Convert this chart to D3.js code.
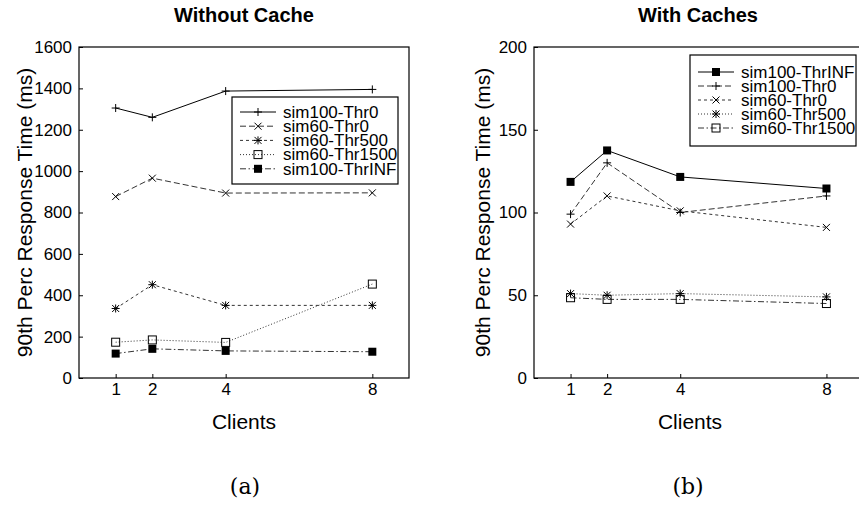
<!DOCTYPE html>
<html>
<head>
<meta charset="utf-8">
<script src="https://cdn.jsdelivr.net/npm/d3@7"></script>
<style>
  html, body { margin: 0; padding: 0; background: #fff; }
  svg { display: block; font-family: "Liberation Sans", Arial, Helvetica, sans-serif; }
</style>
</head>
<body>
<svg id="chart" width="859" height="524"></svg>
<script>
// Clients on the x axis
const clients = [1, 2, 4, 8];

// Tick values
const xTicks = [1, 2, 4, 8];
const yTicksNoCache = [0, 200, 400, 600, 800, 1000, 1200, 1400, 1600];
const yTicksCache = [0, 50, 100, 150, 200];

// Panel (a): without cache, 90th percentile response time (ms)
const nc_sim100Thr0   = [1305, 1260, 1387, 1395];
const nc_sim60Thr0    = [877, 966, 894, 895];
const nc_sim60Thr500  = [336, 451, 351, 351];
const nc_sim60Thr1500 = [173, 184, 172, 454];
const nc_sim100ThrINF = [118, 141, 131, 127];

// Panel (b): with caches
const c_sim100ThrINF = [118.5, 137.5, 121.5, 114.5];
const c_sim100Thr0   = [99, 130, 100, 110];
const c_sim60Thr0    = [93, 110, 101, 91];
const c_sim60Thr500  = [51, 50, 51, 49];
const c_sim60Thr1500 = [48.5, 47.5, 47.5, 45];

const svg = d3.select("#chart");

// gnuplot-like line types
const dashes = {
  solid: null,
  dashed: "6,3",
  short: "3,3",
  dotted: "1,2",
  dashdot: "6,2.5,1.5,2.5"
};

// point symbol drawing
function drawSymbol(g, type, x, y) {
  const s = 4;
  if (type === "plus") {
    g.append("path").attr("d", `M${x - s},${y}H${x + s}M${x},${y - s}V${y + s}`)
      .attr("stroke", "#000").attr("stroke-width", 1).attr("fill", "none");
  } else if (type === "cross") {
    const c = 3.5;
    g.append("path").attr("d", `M${x - c},${y - c}L${x + c},${y + c}M${x - c},${y + c}L${x + c},${y - c}`)
      .attr("stroke", "#000").attr("stroke-width", 1).attr("fill", "none");
  } else if (type === "star") {
    const c = 3.5;
    g.append("path").attr("d",
      `M${x - s},${y}H${x + s}M${x},${y - s}V${y + s}M${x - c},${y - c}L${x + c},${y + c}M${x - c},${y + c}L${x + c},${y - c}`)
      .attr("stroke", "#000").attr("stroke-width", 1).attr("fill", "none");
  } else if (type === "boxOpen") {
    g.append("rect").attr("x", x - s).attr("y", y - s).attr("width", 2 * s).attr("height", 2 * s)
      .attr("stroke", "#000").attr("stroke-width", 1).attr("fill", "none");
  } else if (type === "boxFilled") {
    g.append("rect").attr("x", x - s).attr("y", y - s).attr("width", 2 * s).attr("height", 2 * s)
      .attr("fill", "#000");
  }
}

function drawPanel(p) {
  const x = d3.scaleLinear().domain([0, 9]).range([p.left, p.right]);
  const y = d3.scaleLinear().domain(p.yDomain).range([p.bottom, p.top]);
  const g = svg.append("g");

  // y axis with inward ticks
  const ya = g.append("g").attr("transform", `translate(${p.left},0)`)
    .call(d3.axisLeft(y).tickValues(p.yTicks).tickSize(-4).tickPadding(7).tickFormat(d3.format("d")));
  ya.select(".domain").remove();
  ya.selectAll("text").attr("font-size", 17).attr("fill", "#000")
    .attr("font-family", "'Liberation Sans', Arial, sans-serif");
  ya.selectAll("line").attr("stroke", "#000");

  // x axis with inward ticks
  const xa = g.append("g").attr("transform", `translate(0,${p.bottom})`)
    .call(d3.axisBottom(x).tickValues(xTicks).tickSize(-4).tickPadding(5).tickFormat(d3.format("d")));
  xa.select(".domain").remove();
  xa.selectAll("text").attr("font-size", 17).attr("fill", "#000")
    .attr("font-family", "'Liberation Sans', Arial, sans-serif");
  xa.selectAll("line").attr("stroke", "#000");

  // frame
  g.append("rect").attr("x", p.left).attr("y", p.top)
    .attr("width", p.right - p.left).attr("height", p.bottom - p.top)
    .attr("fill", "none").attr("stroke", "#000").attr("stroke-width", 1.2);

  // series lines and points
  const line = d3.line().x((d, i) => x(clients[i])).y(d => y(d));
  p.series.forEach(s => {
    g.append("path").datum(s.values).attr("d", line)
      .attr("fill", "none").attr("stroke", s.dash ? "#333" : "#000").attr("stroke-width", 1)
      .attr("stroke-dasharray", s.dash);
    s.values.forEach((v, i) => drawSymbol(g, s.symbol, x(clients[i]), y(v)));
  });

  // legend
  const L = p.legend;
  g.append("rect").attr("x", L.x).attr("y", L.y).attr("width", L.w).attr("height", L.h)
    .attr("fill", "#fff").attr("stroke", "#000").attr("stroke-width", 1.2);
  p.series.forEach((s, i) => {
    const ly = L.y + L.first + i * L.step;
    g.append("line").attr("x1", L.x + 8).attr("x2", L.x + 44).attr("y1", ly).attr("y2", ly)
      .attr("stroke", s.dash ? "#333" : "#000").attr("stroke-width", 1).attr("stroke-dasharray", s.dash);
    drawSymbol(g, s.symbol, L.x + 26, ly);
    g.append("text").attr("x", L.x + 51).attr("y", ly).attr("dy", "0.34em")
      .attr("font-size", 17).attr("fill", "#000").text(s.name);
  });

  // titles and axis labels
  g.append("text").attr("x", p.titleX).attr("y", 22).attr("text-anchor", "middle")
    .attr("font-size", 20).attr("font-weight", "bold").text(p.title);
  g.append("text").attr("transform", `translate(${p.yLabelX},${(p.top + p.bottom) / 2}) rotate(-90)`)
    .attr("text-anchor", "middle").attr("font-size", 21).text("90th Perc Response Time (ms)");
  g.append("text").attr("x", p.xLabelX).attr("y", 429).attr("text-anchor", "middle")
    .attr("font-size", 21).text("Clients");
  g.append("text").attr("x", p.captionX).attr("y", 494).attr("text-anchor", "middle")
    .attr("font-size", 22).attr("font-family", "'DejaVu Serif', 'Liberation Serif', serif")
    .text(p.caption);
}

drawPanel({
  left: 79, right: 409, top: 47, bottom: 378,
  yDomain: [0, 1600], yTicks: yTicksNoCache,
  title: "Without Cache", titleX: 244, yLabelX: 32, xLabelX: 244,
  caption: "(a)", captionX: 245,
  legend: { x: 232, y: 97, w: 166, h: 87, first: 15, step: 14.2 },
  series: [
    { name: "sim100-Thr0", values: nc_sim100Thr0, dash: dashes.solid, symbol: "plus" },
    { name: "sim60-Thr0", values: nc_sim60Thr0, dash: dashes.dashed, symbol: "cross" },
    { name: "sim60-Thr500", values: nc_sim60Thr500, dash: dashes.short, symbol: "star" },
    { name: "sim60-Thr1500", values: nc_sim60Thr1500, dash: dashes.dotted, symbol: "boxOpen" },
    { name: "sim100-ThrINF", values: nc_sim100ThrINF, dash: dashes.dashdot, symbol: "boxFilled" }
  ]
});

drawPanel({
  left: 534, right: 863, top: 47, bottom: 378,
  yDomain: [0, 200], yTicks: yTicksCache,
  title: "With Caches", titleX: 698, yLabelX: 490, xLabelX: 690,
  caption: "(b)", captionX: 688,
  legend: { x: 690, y: 55, w: 166, h: 91, first: 17, step: 14 },
  series: [
    { name: "sim100-ThrINF", values: c_sim100ThrINF, dash: dashes.solid, symbol: "boxFilled" },
    { name: "sim100-Thr0", values: c_sim100Thr0, dash: dashes.dashed, symbol: "plus" },
    { name: "sim60-Thr0", values: c_sim60Thr0, dash: dashes.short, symbol: "cross" },
    { name: "sim60-Thr500", values: c_sim60Thr500, dash: dashes.dotted, symbol: "star" },
    { name: "sim60-Thr1500", values: c_sim60Thr1500, dash: dashes.dashdot, symbol: "boxOpen" }
  ]
});
</script>
</body>
</html>
